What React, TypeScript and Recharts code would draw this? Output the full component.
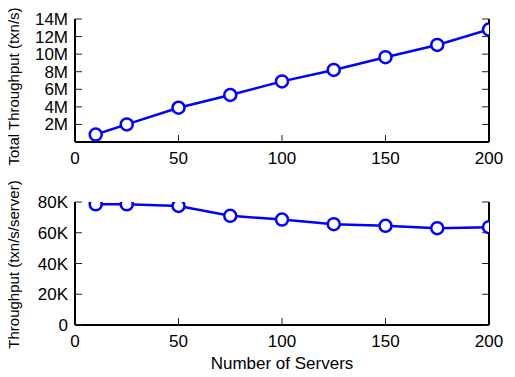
import React from "react";
import { LineChart, Line, XAxis, YAxis } from "recharts";

const servers = [10, 25, 50, 75, 100, 125, 150, 175, 200];
const totalThroughput = [850000, 2000000, 3900000, 5350000, 6900000, 8200000, 9650000, 11050000, 12800000];
const perServerThroughput = [78500, 78500, 77400, 71000, 68600, 65600, 64500, 63000, 63600];

const xTicks = [0, 50, 100, 150, 200];
const totalTicks = [2000000, 4000000, 6000000, 8000000, 10000000, 12000000, 14000000];
const perServerTicks = [0, 20000, 40000, 60000, 80000];

const FONT = "'Liberation Sans', Arial, Helvetica, sans-serif";
const BLUE = "#0000ff";

const data = servers.map((s, i) => ({
  servers: s,
  total: totalThroughput[i],
  perServer: perServerThroughput[i],
}));

const tickStyle = { fill: "#000", fontSize: 17, fontFamily: FONT };
const axisLine = { stroke: "#000", strokeWidth: 2 };
const tickLine = { stroke: "#222", strokeWidth: 1 };

const fmtM = (v: number) => `${v / 1000000}M`;
const fmtK = (v: number) => (v === 0 ? "0" : `${v / 1000}K`);

function YTitle({ viewBox, text, shift }: any) {
  const cy = viewBox.y + viewBox.height / 2 + shift;
  const x = 19;
  return (
    <text
      x={x}
      y={cy}
      transform={`rotate(-90 ${x} ${cy})`}
      textAnchor="middle"
      fontSize={15}
      fontFamily={FONT}
      fill="#000"
    >
      {text}
    </text>
  );
}

function XTitle({ viewBox }: any) {
  return (
    <text
      x={viewBox.x + viewBox.width / 2}
      y={viewBox.y + 44}
      textAnchor="middle"
      fontSize={17}
      fontFamily={FONT}
      fill="#000"
    >
      Number of Servers
    </text>
  );
}

function Panel({
  dataKey,
  ticks,
  domain,
  fmt,
  title,
  titleShift,
  height,
  top,
  xAxisHeight,
  showXTitle,
}: any) {
  return (
    <LineChart
      width={515}
      height={height}
      data={data}
      margin={{ top, right: 0, left: 0, bottom: 0 }}
    >
      <XAxis
        dataKey="servers"
        type="number"
        domain={[0, 200]}
        ticks={xTicks}
        allowDataOverflow
        height={xAxisHeight}
        tick={tickStyle}
        axisLine={axisLine}
        tickLine={tickLine}
        tickSize={-7}
        tickMargin={17}
        interval={0}
        label={showXTitle ? { content: (p: any) => <XTitle {...p} /> } : undefined}
      />
      <XAxis
        xAxisId="top"
        orientation="top"
        dataKey="servers"
        type="number"
        domain={[0, 200]}
        ticks={xTicks}
        allowDataOverflow
        height={0}
        tickFormatter={() => ""}
        axisLine={axisLine}
        tickLine={tickLine}
        tickSize={-7}
        interval={0}
      />
      <YAxis
        type="number"
        domain={domain}
        ticks={ticks}
        allowDataOverflow
        width={75}
        tick={tickStyle}
        tickFormatter={fmt}
        axisLine={axisLine}
        tickLine={tickLine}
        tickSize={-7}
        tickMargin={14}
        interval={0}
        label={{ content: (p: any) => <YTitle {...p} text={title} shift={titleShift} /> }}
      />
      <YAxis
        yAxisId="right"
        orientation="right"
        type="number"
        domain={domain}
        ticks={ticks}
        allowDataOverflow
        width={26}
        tickFormatter={() => ""}
        axisLine={axisLine}
        tickLine={tickLine}
        tickSize={-7}
        interval={0}
      />
      <Line
        xAxisId="top"
        yAxisId="right"
        dataKey={dataKey}
        stroke="none"
        dot={false}
        activeDot={false}
        isAnimationActive={false}
      />
      <Line
        dataKey={dataKey}
        stroke={BLUE}
        strokeWidth={2.5}
        dot={{ r: 6, stroke: BLUE, strokeWidth: 2.5, fill: "#fff" }}
        activeDot={false}
        isAnimationActive={false}
      />
    </LineChart>
  );
}

export default function App() {
  return (
    <div style={{ position: "absolute", left: 0, top: 0, width: 515, height: 377, background: "#fff" }}>
      <div style={{ position: "absolute", left: 0, top: 0 }}>
        <Panel
          dataKey="total"
          ticks={totalTicks}
          domain={[0, 14000000]}
          fmt={fmtM}
          title="Total Throughput (txn/s)"
          titleShift={6}
          height={175}
          top={19}
          xAxisHeight={33}
          showXTitle={false}
        />
      </div>
      <div style={{ position: "absolute", left: 0, top: 175 }}>
        <Panel
          dataKey="perServer"
          ticks={perServerTicks}
          domain={[0, 80000]}
          fmt={fmtK}
          title="Throughput (txn/s/server)"
          titleShift={1}
          height={202}
          top={27}
          xAxisHeight={52}
          showXTitle
        />
      </div>
    </div>
  );
}
